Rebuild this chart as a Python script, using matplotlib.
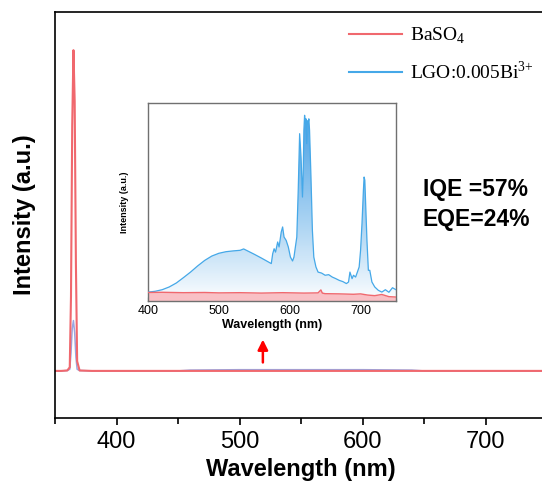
import numpy as np
import matplotlib
matplotlib.use("Agg")
import matplotlib.pyplot as plt
from matplotlib.ticker import MultipleLocator
from matplotlib.colors import LinearSegmentedColormap

plt.rcParams["font.family"] = ["Liberation Sans", "DejaVu Sans"]
plt.rcParams["mathtext.fontset"] = "custom"
plt.rcParams["mathtext.rm"] = "Liberation Serif"

# -----------------------------------
# MAIN SPECTRA (full range)
# -----------------------------------
main_wl = [350, 355, 360, 362, 363, 364, 365, 366, 367, 368, 370, 380, 400,
           450, 460, 500, 550, 600, 640, 650, 700, 750]
baso4_main = [0.116, 0.116, 0.117, 0.125, 0.30, 0.72, 0.906, 0.78, 0.38, 0.14,
              0.117, 0.116, 0.116, 0.116, 0.116, 0.116, 0.116, 0.116, 0.116,
              0.116, 0.116, 0.116]
sample_main = [0.116, 0.116, 0.117, 0.12, 0.16, 0.22, 0.24, 0.21, 0.15, 0.12,
               0.117, 0.116, 0.116, 0.116, 0.118, 0.119, 0.119, 0.119, 0.118,
               0.116, 0.116, 0.116]

# -----------------------------------
# INSET SPECTRA (400-750 nm, zoomed)
# -----------------------------------
inset_wl = [400, 410, 420, 430, 440, 450, 460, 470, 480, 490, 500, 510, 520,
            530, 535, 540, 550, 560, 570, 574, 576, 578, 580, 583, 585, 588,
            590, 592, 595, 598, 601, 604, 606, 608, 610, 612, 614, 616, 618,
            619, 620, 621, 622, 623, 624, 625, 626, 627, 628, 630, 632, 634,
            637, 640, 645, 650, 655, 660, 665, 670, 675, 680, 683, 685, 688,
            690, 693, 695, 698, 700, 702, 704, 705, 706, 707, 709, 711, 713,
            716, 720, 725, 730, 735, 740, 745, 750]
sample_inset = [0.045, 0.049, 0.057, 0.071, 0.091, 0.118, 0.146, 0.177, 0.205,
                0.227, 0.241, 0.249, 0.253, 0.256, 0.263, 0.254, 0.236, 0.217,
                0.197, 0.189, 0.239, 0.264, 0.247, 0.298, 0.273, 0.348, 0.374,
                0.323, 0.306, 0.273, 0.222, 0.202, 0.222, 0.273, 0.323, 0.559,
                0.845, 0.727, 0.525, 0.64, 0.862, 0.938, 0.896, 0.92, 0.795,
                0.91, 0.896, 0.92, 0.862, 0.626, 0.357, 0.222, 0.172, 0.146,
                0.141, 0.130, 0.133, 0.121, 0.113, 0.104, 0.098, 0.088, 0.096,
                0.146, 0.113, 0.130, 0.121, 0.141, 0.172, 0.256, 0.391, 0.559,
                0.626, 0.61, 0.508, 0.306, 0.155, 0.155, 0.096, 0.071, 0.054,
                0.045, 0.057, 0.044, 0.067, 0.057]

red_wl = [400, 420, 450, 480, 500, 530, 560, 590, 620, 640, 644, 646, 650,
          670, 690, 700, 710, 720, 730, 740, 750]
baso4_inset = [0.043, 0.044, 0.042, 0.043, 0.041, 0.042, 0.040, 0.042, 0.040,
               0.041, 0.056, 0.040, 0.037, 0.036, 0.034, 0.036, 0.030, 0.027,
               0.033, 0.022, 0.020]

red = "#f0686e"
blue = "#45a8e8"

fig = plt.figure(figsize=(5.42, 4.86), dpi=100)

# -----------------------------------
# MAIN AXES
# -----------------------------------
ax = fig.add_axes([55 / 542, 68 / 486, 492 / 542, 406 / 486])
ax.plot(main_wl, sample_main, color="#9aa6e0", lw=1.1)
ax.plot(main_wl, baso4_main, color=red, lw=1.5, label="BaSO$_4$")
ax.plot([], [], color=blue, lw=1.5, label="LGO:0.005Bi$^{3{+}}$")
ax.set_xlim(350, 750)
ax.set_ylim(0, 1)
ax.set_yticks([])
ax.xaxis.set_major_locator(MultipleLocator(100))
ax.xaxis.set_minor_locator(MultipleLocator(50))
ax.tick_params(axis="x", which="both", direction="out", labelsize=17,
               length=5, width=1.2, pad=4)
ax.tick_params(axis="x", which="minor", length=4)
for s in ax.spines.values():
    s.set_linewidth(1.2)
ax.set_xlabel("Wavelength (nm)", fontsize=17, fontweight="bold", labelpad=4)
ax.set_ylabel("Intensity (a.u.)", fontsize=17, fontweight="bold", labelpad=14)

leg = ax.legend(loc="upper left", bbox_to_anchor=(339 / 542, 1 - 16 / 486),
                bbox_transform=fig.transFigure, frameon=False,
                prop={"family": "Liberation Serif", "size": 14},
                handlelength=2.75, handletextpad=0.4, labelspacing=0.72,
                borderpad=0)

ax.text(649, 0.564, "IQE =57%", fontsize=16.5, fontweight="bold",
        va="center", ha="left")
ax.text(649, 0.49, "EQE=24%", fontsize=16.5, fontweight="bold",
        va="center", ha="left")

ax.annotate("", xy=(519, 0.2), xytext=(519, 0.13),
            arrowprops=dict(arrowstyle="-|>", color="red", lw=1.8,
                            mutation_scale=15))

# -----------------------------------
# INSET AXES
# -----------------------------------
ins = fig.add_axes([148 / 542, 185 / 486, 248 / 542, 198 / 486])
ins.set_xlim(400, 750)
ins.set_ylim(0, 1)

cmap_b = LinearSegmentedColormap.from_list("bl", ["#ffffff", "#3d9be3"])
grad = np.linspace(0, 1, 256).reshape(-1, 1) ** 0.9
img = ins.imshow(grad, extent=[400, 750, 0, 1], origin="lower",
                 aspect="auto", cmap=cmap_b, vmin=0, vmax=1, zorder=1)
poly = ins.fill_between(inset_wl, sample_inset, 0, color="none", lw=0)
img.set_clip_path(poly.get_paths()[0], transform=ins.transData)

ins.fill_between(red_wl, baso4_inset, 0, color="#f9c0c5", lw=0, zorder=2)
ins.plot(inset_wl, sample_inset, color=blue, lw=0.9, zorder=3)
ins.plot(red_wl, baso4_inset, color=red, lw=1.0, zorder=4)

ins.set_yticks([])
ins.xaxis.set_major_locator(MultipleLocator(100))
ins.xaxis.set_minor_locator(MultipleLocator(50))
ins.tick_params(axis="x", which="both", direction="in", labelsize=9,
                length=3, width=0.8, pad=3)
ins.tick_params(axis="x", which="minor", length=2)
for s in ins.spines.values():
    s.set_color("#707070")
    s.set_linewidth(1.0)
ins.set_xlabel("Wavelength (nm)", fontsize=9, fontweight="bold", labelpad=1)
ins.set_ylabel("Intensity (a.u.)", fontsize=6.5, fontweight="bold", labelpad=14)

fig.savefig("out.png", dpi=100)
